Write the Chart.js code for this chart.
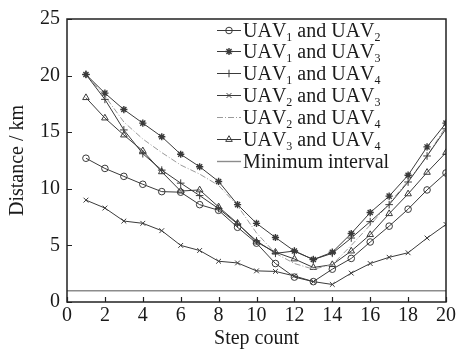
<!DOCTYPE html>
<html><head><meta charset="utf-8">
<script src="https://cdn.jsdelivr.net/npm/chart.js@4/dist/chart.umd.min.js"></script>
<style>html,body{margin:0;padding:0;background:#fff}canvas{display:block}</style>
</head><body>
<canvas id="c" width="461" height="356"></canvas>
<script>
const steps = [1,2,3,4,5,6,7,8,9,10,11,12,13,14,15,16,17,18,19,20];
const xTicks = [0,2,4,6,8,10,12,14,16,18,20];
const yTicks = [0,5,10,15,20,25];
const uav12 = [12.7,11.8,11.1,10.4,9.75,9.7,8.6,8.1,6.6,5.2,3.4,2.2,1.8,2.9,3.85,5.3,6.7,8.2,9.9,11.4];
const uav13 = [20.1,18.45,17.0,15.8,14.6,13.05,11.95,10.65,8.6,6.95,5.7,4.5,3.75,4.4,6.05,7.9,9.35,11.2,13.7,15.8];
const uav14 = [20.1,17.9,15.2,13.1,11.65,10.5,9.4,8.25,6.9,5.4,4.3,4.5,3.75,4.3,5.65,7.1,8.6,10.6,12.9,15.3];
const uav23 = [9.0,8.3,7.15,6.95,6.3,5.0,4.55,3.6,3.45,2.75,2.7,2.3,1.8,1.55,2.55,3.4,3.95,4.35,5.65,6.85];
const uav24 = [20.1,18.2,15.9,14.4,13.2,12.1,11.3,10.3,8.5,6.1,4.3,3.4,2.9,3.3,5.0,6.8,8.7,10.7,12.9,15.5];
const uav34 = [18.05,16.25,14.75,13.35,11.5,9.8,9.9,8.4,6.95,5.3,4.4,3.8,3.05,3.3,4.5,5.95,7.8,9.55,11.45,13.2];
const minX = [0,20];
const minInterval = [1,1];
const labels = ['UAV₁ and UAV₂','UAV₁ and UAV₃','UAV₁ and UAV₄','UAV₂ and UAV₃','UAV₂ and UAV₄','UAV₃ and UAV₄','Minimum interval'];

const pts = (xs, ys) => xs.map((x,i)=>({x, y: ys[i]}));
const DARK = '#3a3a3a';
const FONT = "'Liberation Serif', 'Times New Roman', serif";

function ds(label, data, style, extra){
  return Object.assign({label, data: pts(steps, data), borderColor: DARK, borderWidth: 1,
    pointStyle: style, pointRadius: 3.3, pointBorderColor: DARK, pointBorderWidth: 1,
    pointBackgroundColor: 'rgba(0,0,0,0)', tension: 0, fill: false}, extra||{});
}

const datasets = [
  ds(labels[0], uav12, 'circle'),
  ds(labels[1], uav13, 'star', {pointRadius: 3.6, pointBorderWidth: 1.4}),
  ds(labels[2], uav14, 'cross', {pointRadius: 3.8}),
  ds(labels[3], uav23, 'crossRot', {pointRadius: 3.4}),
  ds(labels[4], uav24, false, {borderColor: '#9a9a9a', borderDash: [6,2,1,2], pointRadius: 0}),
  ds(labels[5], uav34, 'triangle', {pointRadius: 3.8}),
  {label: labels[6], data: pts(minX, minInterval), borderColor: '#8c8c8c', borderWidth: 1.4, pointRadius: 0, tension: 0}
];

const frame = {
  id: 'frame',
  afterDatasetsDraw(chart){
    const {ctx, chartArea: a, scales: {x, y}} = chart;
    ctx.save();
    ctx.strokeStyle = '#222';
    ctx.lineWidth = 1.5;
    ctx.strokeRect(a.left, a.top, a.right - a.left, a.bottom - a.top);
    ctx.lineWidth = 1.2;
    ctx.beginPath();
    xTicks.forEach(v => { const px = Math.round(x.getPixelForValue(v)) + 0.5; ctx.moveTo(px, a.bottom); ctx.lineTo(px, a.bottom - 5); });
    yTicks.forEach(v => { const py = Math.round(y.getPixelForValue(v)) + 0.5; ctx.moveTo(a.left, py); ctx.lineTo(a.left + 5, py); });
    ctx.stroke();
    ctx.restore();
  }
};

const legend = {
  id: 'customLegend',
  afterDraw(chart){
    const ctx = chart.ctx;
    const x0 = 217, x1 = 241, tx = 243, base0 = 36.5, dy = 21.9;
    ctx.save();
    chart.data.datasets.forEach((d, i) => {
      const base = base0 + dy * i;
      const ly = Math.round(base - 7) + 0.5;
      ctx.save();
      ctx.strokeStyle = d.borderColor;
      ctx.lineWidth = d.borderWidth;
      ctx.setLineDash(d.borderDash || []);
      ctx.beginPath(); ctx.moveTo(x0, ly); ctx.lineTo(x1, ly); ctx.stroke();
      ctx.setLineDash([]);
      if (d.pointStyle && d.pointRadius) {
        ctx.lineWidth = d.pointBorderWidth;
        ctx.strokeStyle = d.pointBorderColor;
        ctx.fillStyle = 'rgba(0,0,0,0)';
        Chart.helpers.drawPoint(ctx, {pointStyle: d.pointStyle, radius: d.pointRadius, borderWidth: d.pointBorderWidth, rotation: 0}, (x0 + x1) / 2, ly);
      }
      ctx.restore();
      // text with subscripts
      ctx.fillStyle = '#1a1a1a';
      ctx.textBaseline = 'alphabetic';
      let cx = tx;
      for (const ch of d.label) {
        const code = ch.charCodeAt(0);
        if (code >= 0x2080 && code <= 0x2089) {
          ctx.font = `12px ${FONT}`;
          const s = String(code - 0x2080);
          ctx.fillText(s, cx, base + 4);
          cx += ctx.measureText(s).width;
        } else {
          ctx.font = `20px ${FONT}`;
          ctx.fillText(ch, cx, base);
          cx += ctx.measureText(ch).width;
        }
      }
    });
    ctx.restore();
  }
};

new Chart(document.getElementById('c'), {
  type: 'line',
  data: {datasets},
  plugins: [frame, legend],
  options: {
    responsive: false,
    animation: false,
    devicePixelRatio: 1,
    layout: {padding: {left: 0, right: 15, top: 14, bottom: 0}},
    plugins: {legend: {display: false}, tooltip: {enabled: false}},
    scales: {
      x: {
        type: 'linear', min: 0, max: 20,
        afterFit: s => { s.height = 54; },
        afterBuildTicks: s => { s.ticks = xTicks.map(v => ({value: v})); },
        grid: {display: false, drawTicks: false},
        border: {display: false},
        ticks: {color: '#1a1a1a', font: {family: FONT, size: 20}, padding: 2, maxRotation: 0, autoSkip: false},
        title: {display: true, text: 'Step count', color: '#1a1a1a', font: {family: FONT, size: 20}, padding: {top: 0, bottom: 5}}
      },
      y: {
        type: 'linear', min: 0, max: 25,
        afterFit: s => { s.width = 67; },
        afterBuildTicks: s => { s.ticks = yTicks.map(v => ({value: v})); },
        grid: {display: false, drawTicks: false},
        border: {display: false},
        ticks: {color: '#1a1a1a', font: {family: FONT, size: 20}, padding: 7, autoSkip: false},
        title: {display: true, text: 'Distance / km', color: '#1a1a1a', font: {family: FONT, size: 20}, padding: {top: 6, bottom: 0}}
      }
    }
  }
});
</script>
</body></html>
